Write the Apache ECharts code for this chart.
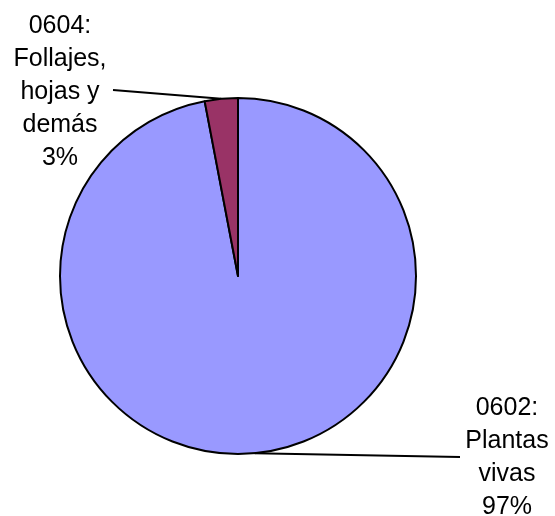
<!DOCTYPE html>
<html>
<head>
<meta charset="utf-8">
<script src="https://cdn.jsdelivr.net/npm/echarts@6/dist/echarts.min.js"></script>
<style>
  html, body { margin: 0; padding: 0; background: #fff; }
  #chart { width: 555px; height: 516px; }
</style>
</head>
<body>
<div id="chart"></div>
<script>
// slice names and shares (%)
const categories = ['0602:\nPlantas\nvivas', '0604:\nFollajes,\nhojas y\ndemás'];
const shares = [97, 3];
const colors = ['#9999ff', '#993366'];

// where each label block sits (centre) and where its leader line ends
const labelSpots = [
  { x: 507, y: 458, lineEnd: [460, 457] },
  { x: 60, y: 92, lineEnd: [113, 90] },
];

const chart = echarts.init(document.getElementById('chart'));

chart.setOption({
  animation: false,
  series: [
    {
      type: 'pie',
      center: [238, 276],
      radius: [0, 178],
      startAngle: 90,
      clockwise: true,
      data: categories.map((name, i) => ({
        name: name,
        value: shares[i],
        itemStyle: { color: colors[i] },
      })),
      itemStyle: {
        borderColor: '#000',
        borderWidth: 2,
      },
      label: {
        show: true,
        color: '#000',
        fontFamily: '"Liberation Sans", Arial, sans-serif',
        fontSize: 25,
        lineHeight: 33,
        align: 'center',
        formatter: (p) => p.name + '\n' + Math.round(p.percent) + '%',
      },
      labelLine: {
        show: true,
        length: 10,
        length2: 10,
        lineStyle: { color: '#000', width: 2 },
      },
      labelLayout: (params) => {
        const spot = labelSpots[params.dataIndex];
        const start = params.labelLinePoints ? params.labelLinePoints[0] : spot.lineEnd;
        return {
          x: spot.x,
          y: spot.y,
          align: 'center',
          verticalAlign: 'middle',
          labelLinePoints: [start, spot.lineEnd, spot.lineEnd],
        };
      },
      emphasis: { disabled: true },
    },
  ],
});
</script>
</body>
</html>
